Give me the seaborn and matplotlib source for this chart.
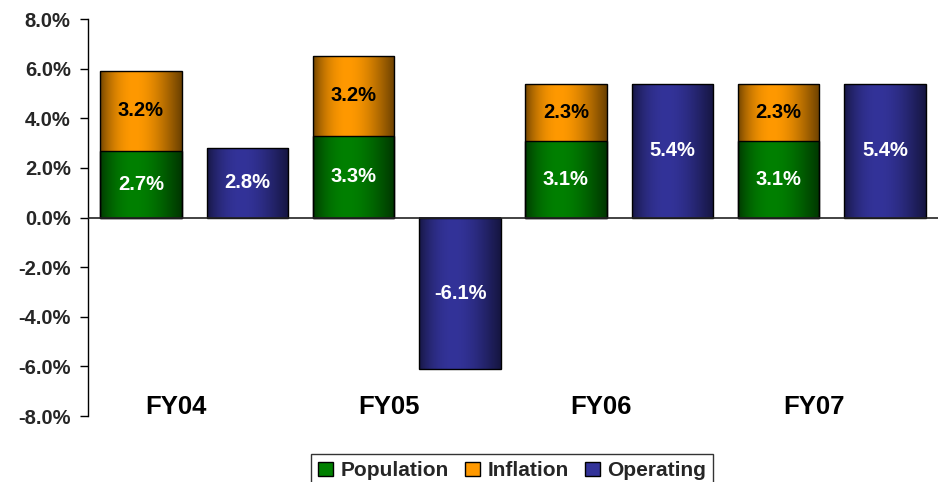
import numpy as np
import pandas as pd
import matplotlib
matplotlib.use("Agg")
import matplotlib.pyplot as plt
import matplotlib.colors as mcolors
from matplotlib.patches import Patch
import seaborn as sns

# ---- data ----
years = ["FY04", "FY05", "FY06", "FY07"]
population = [2.7, 3.3, 3.1, 3.1]
inflation = [3.2, 3.2, 2.3, 2.3]
operating = [2.8, -6.1, 5.4, 5.4]
yticks = [-8, -6, -4, -2, 0, 2, 4, 6, 8]

GREEN = "#008000"
ORANGE = "#FF9900"
BLUE = "#333399"

sns.set_theme(style="white")
plt.rcParams["font.family"] = ["Liberation Sans", "DejaVu Sans"]
plt.rcParams["font.weight"] = "bold"

fig = plt.figure(figsize=(9.38, 4.82), dpi=100)
ax = fig.add_axes([88/938, 1-416/482, 1-88/938, (416-19)/482])

totals = [p + i for p, i in zip(population, inflation)]
df_top = pd.DataFrame({
    "Year": years * 2,
    "Series": ["Stack"] * 4 + ["Operating"] * 4,
    "Value": totals + operating,
})
df_pop = pd.DataFrame({
    "Year": years * 2,
    "Series": ["Stack"] * 4 + ["Operating"] * 4,
    "Value": population + [0.0] * 4,
})
hue_order = ["Stack", "Operating"]
W, GAP = 1.004, 0.233
sns.barplot(data=df_top, x="Year", y="Value", hue="Series", hue_order=hue_order,
            palette={"Stack": ORANGE, "Operating": BLUE}, width=W, gap=GAP,
            edgecolor="black", linewidth=1, legend=False, ax=ax, errorbar=None,
            saturation=1)
sns.barplot(data=df_pop, x="Year", y="Value", hue="Series", hue_order=hue_order,
            palette={"Stack": GREEN, "Operating": BLUE}, width=W, gap=GAP,
            edgecolor="black", linewidth=1, legend=False, ax=ax, errorbar=None,
            saturation=1)

ax.set_xlim(-0.5, 3.5)
ax.set_ylim(-8, 8)

# cylinder-like horizontal gradient inside each bar
t = np.linspace(0, 1, 200)
prof = 0.42 + 0.58 * np.sin(np.pi * np.clip(t, 0, 1) ** 0.8)
for p in list(ax.patches):
    h = p.get_height()
    if h == 0 or np.isnan(h):
        p.set_visible(False)
        continue
    x0, y0, w = p.get_x(), p.get_y(), p.get_width()
    rgb = np.array(mcolors.to_rgb(p.get_facecolor()))
    img = np.clip(prof[:, None] * rgb[None, :], 0, 1)[None, :, :]
    ax.imshow(img, extent=(x0, x0 + w, min(y0, y0 + h), max(y0, y0 + h)),
              aspect="auto", zorder=2, interpolation="bilinear")
    p.set_facecolor("none")
    p.set_zorder(3)

ax.set_xlim(-0.5, 3.5)
ax.set_ylim(-8, 8)

# value labels
off = W / 4
for i in range(4):
    ax.text(i - off, population[i] / 2, f"{population[i]:.1f}%", ha="center", va="center",
            color="white", fontsize=14.5, fontweight="bold", zorder=5)
    ax.text(i - off, population[i] + inflation[i] / 2, f"{inflation[i]:.1f}%", ha="center",
            va="center", color="black", fontsize=14.5, fontweight="bold", zorder=5)
    ax.text(i + off, operating[i] / 2, f"{operating[i]:.1f}%", ha="center", va="center",
            color="white", fontsize=14.5, fontweight="bold", zorder=5)
    ax.text(i - 0.085, -7.65, years[i], ha="center", va="center", color="black",
            fontsize=18.5, fontweight="bold", zorder=5)

ax.axhline(0, color="#222222", linewidth=1.2, zorder=4)

ax.set_yticks(yticks)
ax.set_yticklabels([f"{v:.1f}%" for v in yticks], fontsize=14.5, fontweight="bold")
ax.set_xticks([])
ax.set_xlabel("")
ax.set_ylabel("")
for s in ["top", "right", "bottom"]:
    ax.spines[s].set_visible(False)
ax.spines["left"].set_color("black")
ax.spines["left"].set_linewidth(1)
ax.tick_params(axis="y", which="major", left=True, length=6, width=1, color="black",
               direction="out", pad=6.5)

handles = [Patch(facecolor=GREEN, edgecolor="black", linewidth=1),
           Patch(facecolor=ORANGE, edgecolor="black", linewidth=1),
           Patch(facecolor=BLUE, edgecolor="black", linewidth=1)]
leg = fig.legend(handles, ["Population", "Inflation", "Operating"], loc="lower center",
                 bbox_to_anchor=(0.546, -0.012), ncol=3, frameon=True, fancybox=False,
                 edgecolor="black", prop={"size": 15, "weight": "bold"},
                 handlelength=0.7, handleheight=0.7, handletextpad=0.35,
                 columnspacing=0.8, borderpad=0.35, borderaxespad=0)
leg.get_frame().set_linewidth(1)

fig.savefig("out.png", dpi=100)
